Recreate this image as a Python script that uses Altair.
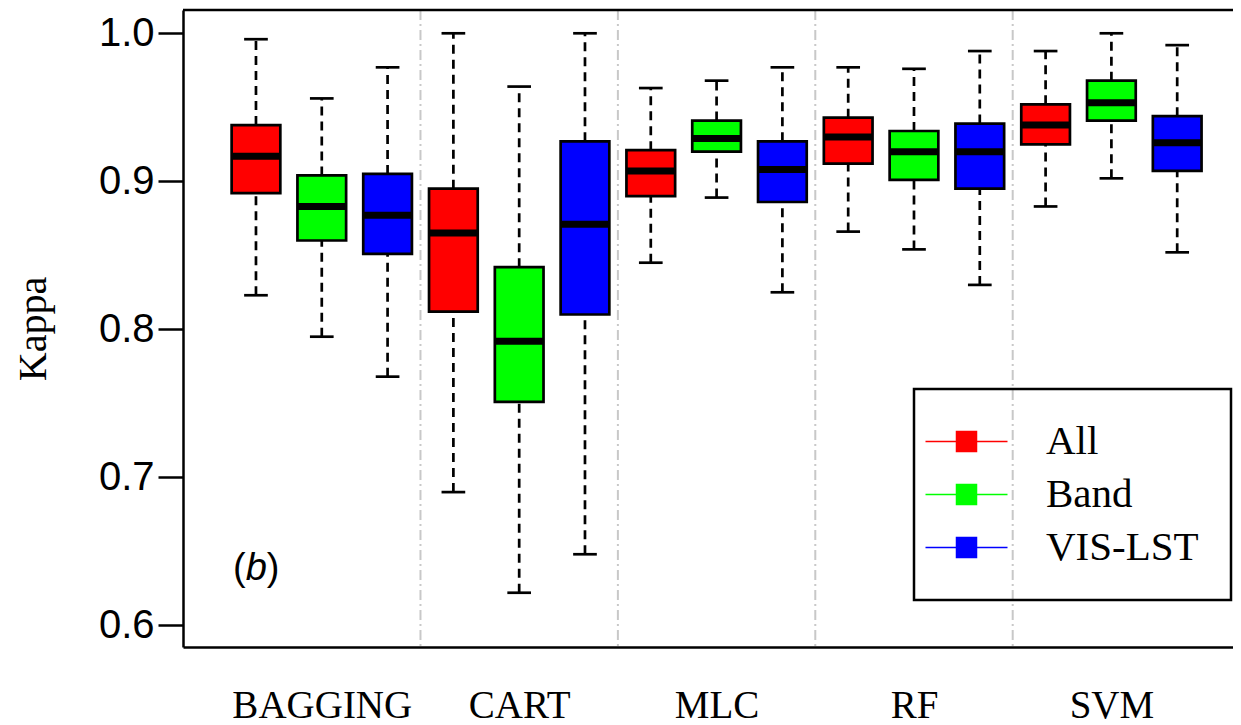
import altair as alt
import pandas as pd

methods = ["BAGGING", "CART", "MLC", "RF", "SVM"]
groups = ["All", "Band", "VIS-LST"]
colors = ["#FF0000", "#00FF00", "#0000FF"]

# one value per box, ordered method by method (All, Band, VIS-LST)
whisker_low = [0.823, 0.795, 0.768, 0.690, 0.622, 0.648, 0.845, 0.889, 0.825,
               0.866, 0.854, 0.830, 0.883, 0.902, 0.852]
q1 = [0.892, 0.860, 0.851, 0.812, 0.751, 0.810, 0.890, 0.920, 0.886,
      0.912, 0.901, 0.895, 0.925, 0.941, 0.907]
median = [0.917, 0.883, 0.877, 0.865, 0.792, 0.871, 0.907, 0.929, 0.908,
          0.930, 0.920, 0.920, 0.938, 0.953, 0.926]
q3 = [0.938, 0.904, 0.905, 0.895, 0.842, 0.927, 0.921, 0.941, 0.927,
      0.943, 0.934, 0.939, 0.952, 0.968, 0.944]
whisker_high = [0.996, 0.956, 0.977, 1.000, 0.964, 1.000, 0.963, 0.968, 0.977,
                0.977, 0.976, 0.988, 0.988, 1.000, 0.992]

y_ticks = [0.6, 0.7, 0.8, 0.9, 1.0]

rows = []
for i, m in enumerate(methods):
    for j, g in enumerate(groups):
        k = i * len(groups) + j
        rows.append(dict(method=m, group=g, pos=k + 1, lo=whisker_low[k], q1=q1[k],
                         median=median[k], q3=q3[k], hi=whisker_high[k]))
df = pd.DataFrame(rows)

n = len(groups)
centers = [i * n + (n + 1) / 2 for i in range(len(methods))]
seps = pd.DataFrame({"sep": [(i + 1) * n + 0.5 for i in range(len(methods) - 1)]})

BOX_HALF = 0.37
CAP_HALF = 0.18

x_scale = alt.Scale(domain=[-0.109, 15.848], nice=False, zero=False)
y_scale = alt.Scale(domain=[0.58534, 1.01574], nice=False, zero=False)

label_expr = "[" + ",".join(f"'{m}'" for m in methods) + "][round((datum.value - 2) / 3)]"

x_axis = alt.Axis(values=centers, labelExpr=label_expr, ticks=False, tickSize=0, grid=False,
                  domainColor="black", domainWidth=2.5, labelFont="Liberation Serif",
                  labelFontSize=39, labelColor="black", labelPadding=70,
                  labelBaseline="alphabetic", labelFlush=False, labelOverlap=False, title=None)
y_axis = alt.Axis(values=y_ticks, format=".1f", grid=False, domainColor="black", domainWidth=2.5,
                  tickColor="black", tickWidth=2.5, tickSize=25, labelFont="Liberation Sans",
                  labelFontSize=40, labelColor="black", labelPadding=4, title="Kappa",
                  titleFont="Liberation Serif", titleFontSize=40, titleFontWeight="normal",
                  titleColor="black", titleX=-138, titleY=318.5, titleAngle=270,
                  titleAlign="center", titleBaseline="alphabetic")

legend = alt.Legend(
    title=None, orient="none", legendX=731, legendY=379, padding=32,
    strokeColor="black", labelFont="Liberation Serif", labelFontSize=41, labelLimit=400,
    labelColor="black", labelOffset=59, symbolType="M-4.1,0H4.1M-1,-1H1V1H-1Z",
    symbolSize=400, symbolStrokeWidth=1.5, symbolOpacity=1, rowPadding=11,
)
color_scale = alt.Scale(domain=groups, range=colors)

base = alt.Chart(df).transform_calculate(
    left=f"datum.pos - {BOX_HALF}", right=f"datum.pos + {BOX_HALF}",
    capl=f"datum.pos - {CAP_HALF}", capr=f"datum.pos + {CAP_HALF}",
)

separators = alt.Chart(seps).mark_rule(color="#c8c8c8", strokeWidth=2, strokeDash=[10, 4, 2, 4]).encode(
    x=alt.X("sep:Q", scale=x_scale, axis=x_axis)
)

whisk_up = base.mark_rule(color="black", strokeWidth=2.7, strokeDash=[9, 6]).encode(
    x=alt.X("pos:Q", scale=x_scale, axis=x_axis),
    y=alt.Y("q3:Q", scale=y_scale, axis=y_axis), y2="hi:Q",
)
whisk_dn = base.mark_rule(color="black", strokeWidth=2.7, strokeDash=[9, 6]).encode(
    x=alt.X("pos:Q", scale=x_scale, axis=x_axis),
    y=alt.Y("lo:Q", scale=y_scale, axis=y_axis), y2="q1:Q",
)
caps = base.transform_fold(["lo", "hi"], as_=["stat", "val"]).mark_rule(
    color="black", strokeWidth=2.7).encode(
    x=alt.X("capl:Q", scale=x_scale, axis=x_axis), x2="capr:Q",
    y=alt.Y("val:Q", scale=y_scale, axis=y_axis),
)
boxes = base.mark_rect().encode(
    x=alt.X("left:Q", scale=x_scale, axis=x_axis), x2="right:Q",
    y=alt.Y("q1:Q", scale=y_scale, axis=y_axis), y2="q3:Q",
    fill=alt.Fill("group:N", scale=color_scale, legend=legend),
    stroke=alt.Stroke("group:N", scale=color_scale, legend=legend),
)
outlines = base.mark_rect(fillOpacity=0, stroke="black", strokeWidth=2.7).encode(
    x=alt.X("left:Q", scale=x_scale, axis=x_axis), x2="right:Q",
    y=alt.Y("q1:Q", scale=y_scale, axis=y_axis), y2="q3:Q",
)
medians = base.mark_rule(color="black", strokeWidth=7, strokeCap="butt").encode(
    x=alt.X("left:Q", scale=x_scale, axis=x_axis), x2="right:Q",
    y=alt.Y("median:Q", scale=y_scale, axis=y_axis),
)
top_border = alt.Chart(pd.DataFrame({"t": [0]})).mark_rule(color="black", strokeWidth=2.5).encode(
    y=alt.value(0)
)

ann = pd.DataFrame({"t": [0]})
p_open = alt.Chart(ann).mark_text(text="(", font="Liberation Sans", fontSize=38, align="left",
                                  baseline="alphabetic", color="black").encode(
    x=alt.value(50), y=alt.value(570))
p_b = alt.Chart(ann).mark_text(text="b", font="Liberation Sans", fontSize=38, fontStyle="italic",
                               align="left", baseline="alphabetic", color="black").encode(
    x=alt.value(62.7), y=alt.value(570))
p_close = alt.Chart(ann).mark_text(text=")", font="Liberation Sans", fontSize=38, align="left",
                                   baseline="alphabetic", color="black").encode(
    x=alt.value(83.8), y=alt.value(570))

chart = alt.layer(
    separators, whisk_up, whisk_dn, caps, boxes, outlines, medians, top_border,
    p_open, p_b, p_close
).properties(
    width=1050, height=637,
    autosize=alt.AutoSizeParams(type="none"),
    padding={"left": 175, "top": 2, "right": 0, "bottom": 78},
    background="white",
).configure_view(stroke=None).configure_legend(strokeWidth=2.5)

chart.save("out.html", embed_options={"renderer": "svg", "actions": False})
